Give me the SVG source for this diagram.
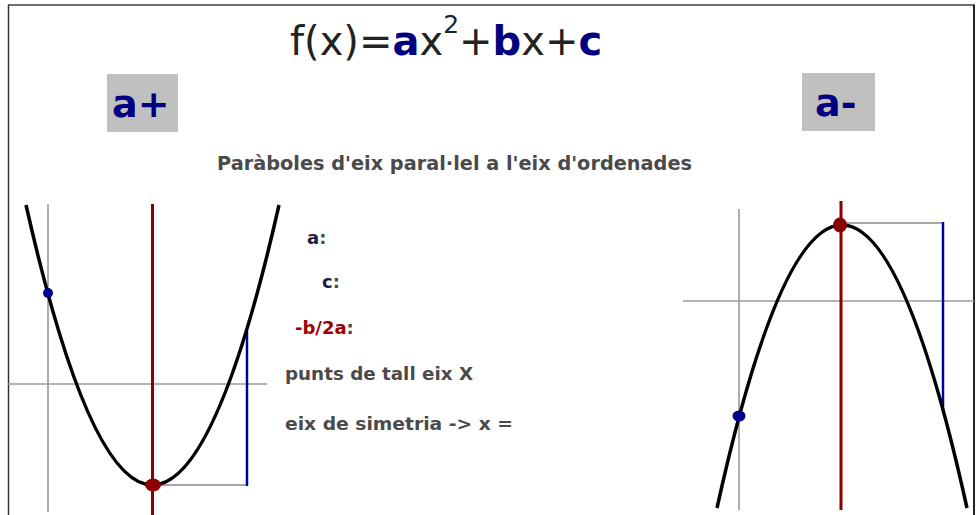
<svg xmlns="http://www.w3.org/2000/svg" width="976" height="515" viewBox="0 0 976 515">
<style>
.f{font-family:"DejaVu Sans",Verdana,sans-serif}
.b{font-weight:bold}
.nv{fill:#000080}
.gr{fill:#4a4a4a}
.axis{stroke:#9a9a9a;stroke-width:1.6;fill:none}
.sym{stroke:#8b0000;stroke-width:3;fill:none}
.cl{stroke:#0000a0;stroke-width:2.5;fill:none}
.curve{stroke:#000;stroke-width:3.5;fill:none}
.seg{stroke:#8a8a8a;stroke-width:1.6;fill:none}
</style>
<rect width="976" height="515" fill="#fff"/>
<g id="frame">
<line x1="8" y1="5" x2="975" y2="5" stroke="#6e6e6e" stroke-width="2"/>
<line x1="8.5" y1="5" x2="8.5" y2="515" stroke="#333" stroke-width="1.5"/>
<line x1="974" y1="5" x2="974" y2="515" stroke="#222" stroke-width="2"/>
</g>
<g id="formula">
<text x="290" y="55" class="f" font-size="40" fill="#222">f(x)=<tspan class="b nv">a</tspan>x<tspan font-size="25" dy="-22">2</tspan><tspan dy="22">+</tspan><tspan class="b nv">b</tspan>x+<tspan class="b nv">c</tspan></text>
</g>
<g id="label-a-plus">
<rect x="107" y="74" width="71" height="58" fill="#c0c0c0"/>
<text x="112" y="117" class="f b nv" font-size="38">a+</text>
</g>
<g id="label-a-minus">
<rect x="802" y="73" width="73" height="58" fill="#c0c0c0"/>
<text x="815" y="116" class="f b nv" font-size="38">a-</text>
</g>
<g id="subtitle">
<text x="217" y="170" class="f b gr" font-size="19" textLength="475" lengthAdjust="spacingAndGlyphs">Paràboles d'eix paral·lel a l'eix d'ordenades</text>
</g>
<g id="list" class="f b" font-size="18">
<text x="307" y="244"><tspan fill="#1c1c48">a</tspan><tspan fill="#4a4a4a">:</tspan></text>
<text x="322" y="288"><tspan fill="#1c1c48">c</tspan><tspan fill="#4a4a4a">:</tspan></text>
<text x="295" y="334"><tspan fill="#a00000">-b/2a</tspan><tspan fill="#4a4a4a">:</tspan></text>
<text x="285" y="380" class="gr" textLength="188" lengthAdjust="spacingAndGlyphs">punts de tall eix X</text>
<text x="285" y="430" class="gr" textLength="228" lengthAdjust="spacingAndGlyphs">eix de simetria -&gt; x =</text>
</g>
<g id="graph-left">
<line class="axis" x1="48" y1="204" x2="48" y2="512"/>
<line class="axis" x1="8" y1="384" x2="267" y2="384"/>
<line class="sym" x1="152.5" y1="204" x2="152.5" y2="515"/>
<line class="seg" x1="152.5" y1="485" x2="247" y2="485"/>
<line class="cl" x1="247" y1="331" x2="247" y2="486"/>
<path class="curve" d="M26,205 Q152.5,765 279,205"/>
<circle cx="48" cy="293" r="5" fill="#00008b"/>
<ellipse cx="153" cy="485" rx="8" ry="6.5" fill="#8b0000"/>
</g>
<g id="graph-right">
<line class="axis" x1="739" y1="209" x2="739" y2="510"/>
<line class="axis" x1="683" y1="301" x2="974" y2="301"/>
<line class="sym" x1="841" y1="201" x2="841" y2="510"/>
<line class="seg" x1="841" y1="223" x2="943" y2="223"/>
<line class="cl" x1="943" y1="222" x2="943" y2="411"/>
<path class="curve" d="M717,508 Q842,-58 967,508"/>
<ellipse cx="739" cy="416" rx="6.5" ry="5.5" fill="#00008b"/>
<ellipse cx="840" cy="225" rx="7" ry="7.5" fill="#8b0000"/>
</g>
</svg>
